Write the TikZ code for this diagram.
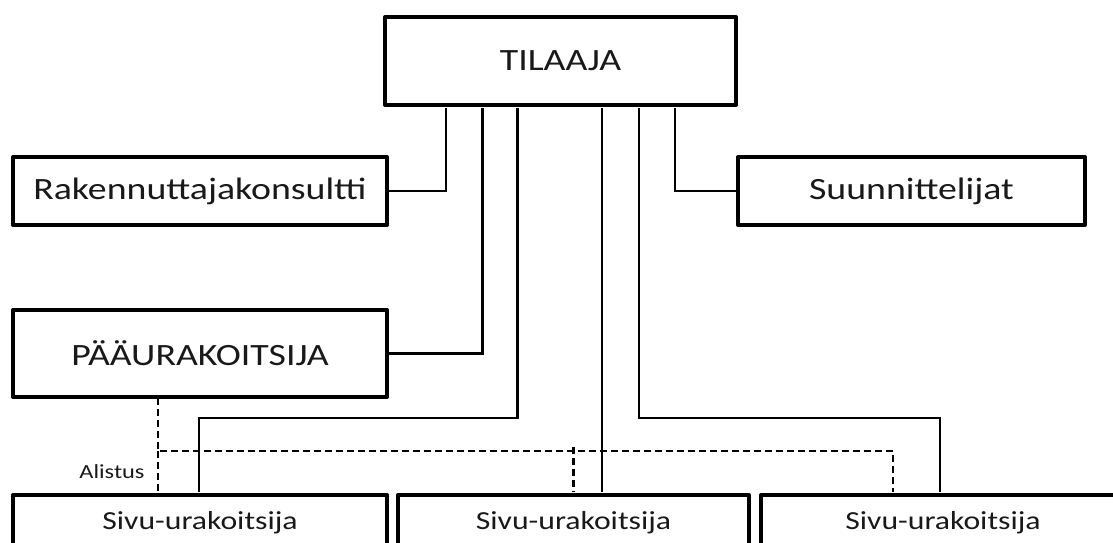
\documentclass[tikz,border=0pt]{standalone}
\usepackage{fontspec}
\setmainfont{Carlito}[FakeStretch=1.22]
\begin{document}
\begin{tikzpicture}[x=1pt,y=-1pt,
  box/.style={draw=black,line width=4pt,line join=round,fill=white,inner sep=0pt,text=black!90},
  conn/.style={draw=black,line width=2.6pt},
  dconn/.style={draw=black,line width=2.6pt,line join=round,dash pattern=on 7pt off 4pt}]
\useasboundingbox (0,0) rectangle (1113,543);
\clip (0,0) rectangle (1113,543);
\node[box,minimum width=351pt,minimum height=88pt,font=\fontsize{31}{36}\selectfont] (T) at (560.5,61) {TILAAJA};
\node[box,minimum width=374pt,minimum height=68pt,font=\fontsize{31}{36}\selectfont] (rak) at (200,191) {Rakennuttajakonsultti};
\node[box,minimum width=347pt,minimum height=68pt,font=\fontsize{31}{36}\selectfont] (suu) at (911.5,191) {Suunnittelijat};
\node[box,minimum width=374pt,minimum height=87pt,font=\fontsize{31}{36}\selectfont] (paa) at (200,353.5) {PÄÄURAKOITSIJA};
\node[box,minimum width=374pt,minimum height=56pt,font=\fontsize{26}{30}\selectfont] (b1) at (200,523) {Sivu-urakoitsija};
\node[box,minimum width=351pt,minimum height=56pt,font=\fontsize{26}{30}\selectfont] (b2) at (573.5,523) {Sivu-urakoitsija};
\node[box,minimum width=364pt,minimum height=56pt,font=\fontsize{26}{30}\selectfont] (b3) at (943,523) {Sivu-urakoitsija};
\node[font=\fontsize{20}{24}\selectfont,text=black!90] (al) at (112,472) {Alistus};
\coordinate (sl) at (199,418);
\coordinate (sr) at (940,418);
\coordinate (dl) at (158,451);
\coordinate (dm) at (573.5,451);
\coordinate (dr) at (893,451);
% solid connectors
\draw[conn] (rak.east) -| ([xshift=-114.5pt,yshift=-1pt]T.south);
\draw[conn] (paa.east) -| ([xshift=-78pt,yshift=-1pt]T.south);
\draw[conn] ([xshift=-43pt,yshift=-1pt]T.south) |- (sl) -- ([xshift=-1pt,yshift=1pt]b1.north);
\draw[conn] ([xshift=41.5pt,yshift=-1pt]T.south) -- ([xshift=28.5pt,yshift=1pt]b2.north);
\draw[conn] ([xshift=78.5pt,yshift=-1pt]T.south) |- (sr) -- ([xshift=-3pt,yshift=1pt]b3.north);
\draw[conn] (suu.west) -| ([xshift=114.5pt,yshift=-1pt]T.south);
% dashed connectors
\draw[dconn] ([xshift=-42pt,yshift=1pt]paa.south) -- (dl) -- (dr) -- ([xshift=-50pt,yshift=1pt]b3.north);
\draw[dconn] (dl) -- ([xshift=-42pt,yshift=1pt]b1.north);
\draw[dconn] ([yshift=4pt]dm) -- ([yshift=1pt]b2.north);
\end{tikzpicture}
\end{document}
